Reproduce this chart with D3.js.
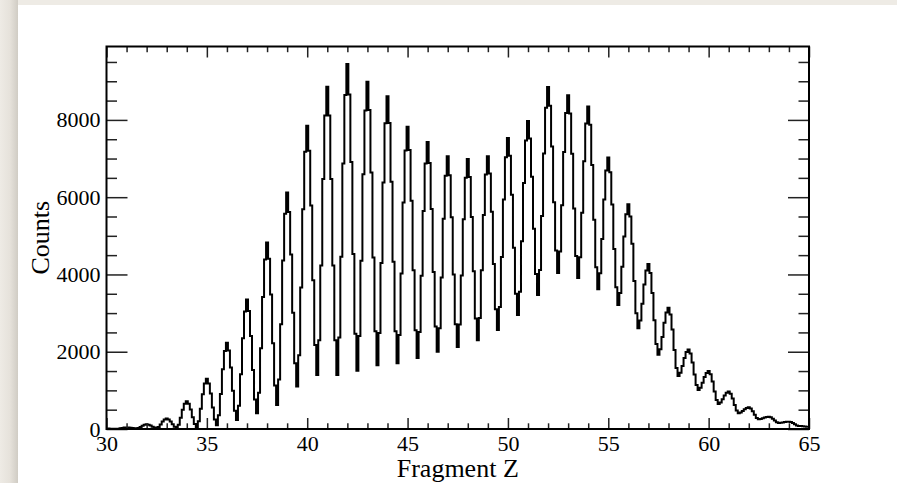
<!DOCTYPE html>
<html>
<head>
<meta charset="utf-8">
<script src="https://cdn.jsdelivr.net/npm/d3@7"></script>
<style>
  body { margin: 0; background: #ffffff; }
  svg { display: block; }
  text { font-family: "Liberation Serif", "Times New Roman", serif; fill: #000; }
</style>
</head>
<body>
<div id="chart"></div>
<script>
// histogram of fragment Z, bins 0.1 wide starting at 29.95
var binStart = 29.95;
var binWidth = 0.1;
var counts = [
  10, 10, 8, 7, 6, 5,
  9, 18, 29, 37, 40, 38, 32, 25, 18, 15,
  28, 55, 86, 110, 120, 111, 90, 61, 36, 25,
  54, 118, 192, 245, 270, 246, 193, 121, 59, 30,
  113, 292, 499, 651, 720, 653, 506, 305, 130, 50,
  200, 525, 900, 1175, 1300, 1180, 916, 556, 244, 100,
  356, 909, 1548, 2017, 2230, 2030, 1590, 990, 470, 230,
  604, 1416, 2352, 3038, 3350, 3056, 2409, 1527, 763, 410,
  940, 2090, 3416, 4388, 4830, 4409, 3483, 2220, 1125, 620,
  1280, 2710, 4360, 5570, 6120, 5618, 4514, 3008, 1702, 1100,
  1910, 3665, 5690, 7175, 7850, 7205, 5786, 3851, 2174, 1400,
  2295, 4235, 6473, 8114, 8860, 8114, 6473, 4235, 2295, 1400,
  2366, 4459, 6874, 8645, 9450, 8656, 6909, 4527, 2463, 1510,
  2408, 4352, 6596, 8242, 8990, 8256, 6641, 4439, 2531, 1650,
  2485, 4295, 6383, 7914, 8610, 7919, 6399, 4326, 2529, 1700,
  2434, 4026, 5862, 7208, 7820, 7222, 5906, 4112, 2558, 1840,
  2511, 3964, 5641, 6871, 7430, 6887, 5692, 4063, 2652, 2000,
  2607, 3923, 5441, 6554, 7060, 6566, 5479, 3997, 2713, 2120,
  2704, 3971, 5432, 6503, 6990, 6521, 5489, 4082, 2863, 2300,
  2871, 4109, 5537, 6584, 7060, 6610, 5620, 4270, 3100, 2560,
  3156, 4449, 5940, 7033, 7530, 7072, 6064, 4690, 3500, 2950,
  3552, 4858, 6364, 7468, 7970, 7520, 6530, 5180, 4010, 3470,
  4116, 5514, 7128, 8312, 8850, 8369, 7311, 5868, 4617, 4040,
  4592, 5788, 7168, 8180, 8640, 8167, 7126, 5707, 4478, 3910,
  4443, 5597, 6929, 7906, 8350, 7877, 6836, 5417, 4188, 3620,
  4029, 4916, 5939, 6689, 7030, 6648, 5808, 4662, 3668, 3210,
  3523, 4202, 4985, 5559, 5820, 5499, 4793, 3830, 2995, 2610,
  2809, 3241, 3739, 4104, 4270, 4035, 3518, 2813, 2202, 1920,
  2066, 2384, 2750, 3018, 3140, 2963, 2574, 2043, 1582, 1370,
  1453, 1632, 1839, 1991, 2060, 1955, 1724, 1409, 1136, 1010,
  1069, 1196, 1343, 1451, 1500, 1415, 1228, 973, 752, 650,
  688, 772, 868, 938, 970, 914, 791, 623, 477, 410,
  428, 467, 512, 545, 560, 529, 461, 368, 287, 250,
  258, 277, 298, 313, 320, 304, 267, 218, 175, 155,
  159, 168, 179, 187, 190, 179, 155, 122, 93, 80,
  75, 70, 65, 60
];
var xDomain = [30, 65];
var yDomain = [0, 9900];
var xMajor = [30, 35, 40, 45, 50, 55, 60, 65];
var xMinor = d3.range(31, 65).filter(function(v) { return v % 5 != 0; });
var yMajor = [0, 2000, 4000, 6000, 8000];
var yMinor = [500, 1000, 1500, 2500, 3000, 3500, 4500, 5000, 5500, 6500, 7000, 7500, 8500, 9000, 9500];

var W = 897, H = 483;
var margin = {top: 46.5, right: 88, bottom: 54, left: 106.5};
var width = W - margin.left - margin.right,
    height = H - margin.top - margin.bottom;

var svg = d3.select("#chart").append("svg")
  .attr("width", W)
  .attr("height", H);

// framed page look: beige strip with soft shadow on the left
var defs = svg.append("defs");
var grad = defs.append("linearGradient").attr("id", "shade")
  .attr("x1", 0).attr("x2", 1).attr("y1", 0).attr("y2", 0);
grad.append("stop").attr("offset", "0%").attr("stop-color", "#eeebe5");
grad.append("stop").attr("offset", "55%").attr("stop-color", "#e6e2db");
grad.append("stop").attr("offset", "100%").attr("stop-color", "#d0ccc4");
svg.append("rect").attr("width", W).attr("height", H).attr("fill", "#eeebe5");
svg.append("rect").attr("x", 0).attr("y", 0).attr("width", 18).attr("height", H).attr("fill", "url(#shade)");
svg.append("rect").attr("x", 18).attr("y", 5).attr("width", W - 18).attr("height", H - 5).attr("fill", "#ffffff");

defs.append("clipPath").attr("id", "plotclip")
  .append("rect").attr("width", width).attr("height", height);

var g = svg.append("g")
  .attr("transform", "translate(" + margin.left + "," + margin.top + ")");

var x = d3.scaleLinear().domain(xDomain).range([0, width]);
var y = d3.scaleLinear().domain(yDomain).range([height, 0]);

// step outline of the histogram
var pts = counts.map(function(c, i) { return [binStart + i * binWidth, c]; });
pts.push([binStart + counts.length * binWidth, counts[counts.length - 1]]);

var line = d3.line()
  .x(function(d) { return x(d[0]); })
  .y(function(d) { return y(d[1]); })
  .curve(d3.curveStepAfter);

g.append("path")
  .datum(pts)
  .attr("clip-path", "url(#plotclip)")
  .attr("fill", "none")
  .attr("stroke", "#000")
  .attr("stroke-width", 2)
  .attr("d", line);

function styleAxis(sel) {
  sel.select(".domain").remove();
  sel.selectAll(".tick line").attr("stroke", "#222").attr("stroke-width", 1.5);
  sel.selectAll("text").style("font-size", "22px").attr("fill", "#000");
}

// bottom / top
g.append("g").attr("transform", "translate(0," + height + ")")
  .call(d3.axisBottom(x).tickValues(xMajor).tickSize(-11).tickPadding(6).tickFormat(d3.format("d")))
  .call(styleAxis);
g.append("g").attr("transform", "translate(0," + height + ")")
  .call(d3.axisBottom(x).tickValues(xMinor).tickSize(-5.7).tickFormat(""))
  .call(styleAxis);
g.append("g")
  .call(d3.axisTop(x).tickValues(xMajor).tickSize(-11).tickFormat(""))
  .call(styleAxis);
g.append("g")
  .call(d3.axisTop(x).tickValues(xMinor).tickSize(-5.7).tickFormat(""))
  .call(styleAxis);

// left / right
g.append("g")
  .call(d3.axisLeft(y).tickValues(yMajor).tickSize(-21).tickPadding(6).tickFormat(d3.format("d")))
  .call(styleAxis);
g.append("g")
  .call(d3.axisLeft(y).tickValues(yMinor).tickSize(-10.5).tickFormat(""))
  .call(styleAxis);
g.append("g").attr("transform", "translate(" + width + ",0)")
  .call(d3.axisRight(y).tickValues(yMajor).tickSize(-21).tickFormat(""))
  .call(styleAxis);
g.append("g").attr("transform", "translate(" + width + ",0)")
  .call(d3.axisRight(y).tickValues(yMinor).tickSize(-10.5).tickFormat(""))
  .call(styleAxis);

// frame
g.append("rect")
  .attr("width", width).attr("height", height)
  .attr("fill", "none").attr("stroke", "#000").attr("stroke-width", 2);

// axis titles
g.append("text")
  .attr("x", width / 2)
  .attr("y", height + 48)
  .attr("text-anchor", "middle")
  .style("font-size", "26px")
  .text("Fragment Z");

g.append("text")
  .attr("transform", "translate(-58," + (height / 2) + ") rotate(-90)")
  .attr("text-anchor", "middle")
  .style("font-size", "26px")
  .text("Counts");
</script>
</body>
</html>
